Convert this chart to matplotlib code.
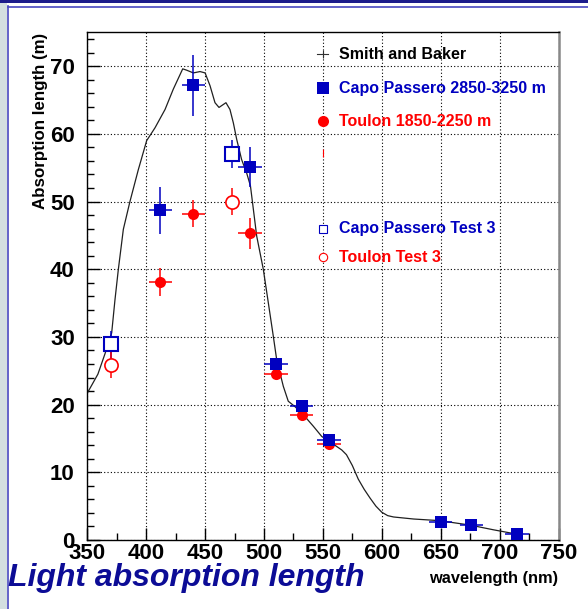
import matplotlib
matplotlib.use("Agg")
import matplotlib.pyplot as plt
from matplotlib.ticker import MultipleLocator
from matplotlib.lines import Line2D
from matplotlib.patches import Rectangle

plt.rcParams['font.family'] = ['Liberation Sans', 'DejaVu Sans']

# ---- data ----
sb_wl = [350, 359, 365, 370.7, 373.5, 376.3, 380.6, 386.2, 393.3, 400.4, 407.5, 416, 423,
         431, 434.4, 440, 445.7, 450, 454.2, 458.4, 461.8, 467.7, 471.1, 474, 476.8, 481,
         485.3, 488.5, 493.8, 499.4, 503.7, 507.9, 510.8, 516.4, 520.6, 526.3, 533.4, 541.9,
         549, 555, 561, 566, 570, 575, 580, 585, 590, 595, 600, 605, 610, 627, 649, 675, 695, 715]
sb_len = [21.7, 24.5, 27.5, 30.6, 35.5, 39.9, 45.9, 50.0, 54.7, 59.0, 60.9, 63.6, 66.6,
          69.6, 69.4, 69.0, 69.2, 69.0, 67.1, 64.6, 63.9, 64.6, 63.6, 61.6, 59.2, 56.2,
          54.2, 52.3, 44.9, 40.0, 35.0, 30.1, 26.6, 22.7, 20.5, 19.7, 18.5, 16.8,
          15.3, 14.6, 13.9, 13.3, 12.6, 11.0, 9.0, 7.5, 6.2, 5.0, 4.1, 3.6, 3.4, 3.1, 2.86, 2.2, 1.5, 0.85]

cp_wl = [412, 440, 488, 510, 532, 555, 650, 676, 715]
cp_len = [48.7, 67.2, 55.1, 26.0, 19.8, 14.7, 2.7, 2.2, 0.85]
cp_yerr = [3.5, 4.5, 3.0, 0.8, 0.8, 0.8, 0.6, 0.6, 0.6]
cp_xerr = [10, 10, 10, 10, 10, 10, 10, 10, 10]

tl_wl = [412, 440, 488, 510, 532, 555]
tl_len = [38.1, 48.2, 45.3, 24.5, 18.5, 14.2]
tl_yerr = [2.1, 2.0, 2.3, 0.6, 0.6, 0.6]
tl_xerr = [10, 10, 10, 10, 10, 10]

cpt_wl = [370, 473]
cpt_len = [28.9, 57.0]
cpt_yerr = [2.0, 2.1]

tlt_wl = [370, 473]
tlt_len = [25.9, 50.0]
tlt_yerr = [2.0, 2.0]

legend_labels = ["Smith and Baker", "Capo Passero 2850-3250 m", "Toulon 1850-2250 m",
                 "Capo Passero Test 3", "Toulon Test 3"]

BLUE = '#0000c0'
RED = '#ff0000'

W, H = 588, 609
fig = plt.figure(figsize=(W / 100, H / 100), dpi=100)
fig.patch.set_facecolor('white')

# frame decoration
fig.patches.append(Rectangle((0, 0), 7 / W, 1, transform=fig.transFigure,
                             facecolor='#d3dfe0', edgecolor='none', zorder=0))
fig.patches.append(Rectangle((0, 1 - 2.5 / H), 1, 2.5 / H, transform=fig.transFigure,
                             facecolor='#1c1c8c', edgecolor='none', zorder=1))
fig.add_artist(Line2D([7.5 / W, 7.5 / W], [0, 1 - 6 / H], transform=fig.transFigure,
                      color='#4848c0', lw=1.2))
fig.add_artist(Line2D([7.5 / W, 1], [1 - 6.5 / H, 1 - 6.5 / H], transform=fig.transFigure,
                      color='#4848c0', lw=1.2))

ax_l, ax_r, ax_t, ax_b = 87.3, 558.5, 32.3, 540.0
ax = fig.add_axes([ax_l / W, 1 - ax_b / H, (ax_r - ax_l) / W, (ax_b - ax_t) / H])

ax.plot(sb_wl, sb_len, color='#202020', lw=0.9, zorder=2)

ax.errorbar(tl_wl, tl_len, yerr=tl_yerr, xerr=tl_xerr, fmt='o', color=RED,
            ms=8, mew=0, elinewidth=1.1, capsize=0, zorder=3)
ax.errorbar(cp_wl, cp_len, yerr=cp_yerr, xerr=cp_xerr, fmt='s', color=BLUE,
            ms=9, mew=0, elinewidth=1.1, capsize=0, zorder=4)
ax.errorbar(cpt_wl, cpt_len, yerr=cpt_yerr, fmt='s', color=BLUE, mfc='white',
            ms=10, mew=1.5, elinewidth=1.1, capsize=0, zorder=4)
ax.errorbar(tlt_wl, tlt_len, yerr=tlt_yerr, fmt='o', color=RED, mfc='white',
            ms=9.5, mew=1.2, elinewidth=1.1, capsize=0, zorder=4)

ax.set_xlim(350, 750)
ax.set_ylim(0, 75)
ax.xaxis.set_major_locator(MultipleLocator(50))
ax.xaxis.set_minor_locator(MultipleLocator(25))
ax.yaxis.set_major_locator(MultipleLocator(10))
ax.yaxis.set_minor_locator(MultipleLocator(2))
ax.tick_params(which='both', direction='in', top=False, right=False)
ax.tick_params(which='major', length=9, width=1)
ax.tick_params(which='minor', length=5, width=1)
ax.tick_params(axis='y', which='major', pad=9)
ax.tick_params(axis='x', which='major', pad=2)
for lab in ax.get_xticklabels() + ax.get_yticklabels():
    lab.set_fontsize(16)
    lab.set_fontweight('bold')
ax.grid(True, which='major', color='black', linestyle=(0, (1, 2)), lw=0.8)
for s in ['left', 'bottom', 'top']:
    ax.spines[s].set_color('black')
    ax.spines[s].set_linewidth(1)
ax.spines['right'].set_color('#888888')
ax.spines['right'].set_linewidth(1.8)

# legend (manual layout)
def ay(px):
    return (ax_b - px) / (ax_b - ax_t)
mx = (322.7 - ax_l) / (ax_r - ax_l)
tx = (339.3 - ax_l) / (ax_r - ax_l)
T = ax.transAxes
ax.plot([mx - 0.012, mx + 0.012], [ay(54)] * 2, color='#303030', lw=0.8, transform=T, clip_on=False)
ax.plot([mx], [ay(54)], marker='|', color='#303030', ms=6, mew=0.8, transform=T)
ax.plot([mx], [ay(88)], marker='s', color=BLUE, ms=8, mew=0, transform=T)
ax.plot([mx], [ay(121)], marker='o', color=RED, ms=8, mew=0, transform=T)
ax.plot([mx], [ay(153)], marker='|', color=RED, ms=6, mew=0.8, transform=T)
ax.plot([mx], [ay(229)], marker='s', color=BLUE, mfc='white', ms=6, mew=0.8, transform=T)
ax.plot([mx], [ay(257)], marker='o', color=RED, mfc='white', ms=6, mew=0.8, transform=T)
leg_y = [54, 88, 121, 229, 257]
leg_c = ['black', BLUE, RED, BLUE, RED]
for lab, py, c in zip(legend_labels, leg_y, leg_c):
    ax.text(tx, ay(py), lab, transform=T, color=c, fontsize=11.5, fontweight='bold',
            ha='left', va='center')

fig.text(40 / W, 1 - 33 / H, "Absorption length (m)", rotation=90, ha='center', va='top',
         fontsize=12.2, fontweight='bold')
fig.text(558 / W, 1 - 579 / H, "wavelength (nm)", ha='right', va='center',
         fontsize=11.8, fontweight='bold')
fig.text(8 / W, 1 - 578 / H, "Light absorption length", ha='left', va='center',
         fontsize=23, fontweight='bold', fontstyle='italic', color='#0c0c96')

fig.savefig('out.png', dpi=100)
